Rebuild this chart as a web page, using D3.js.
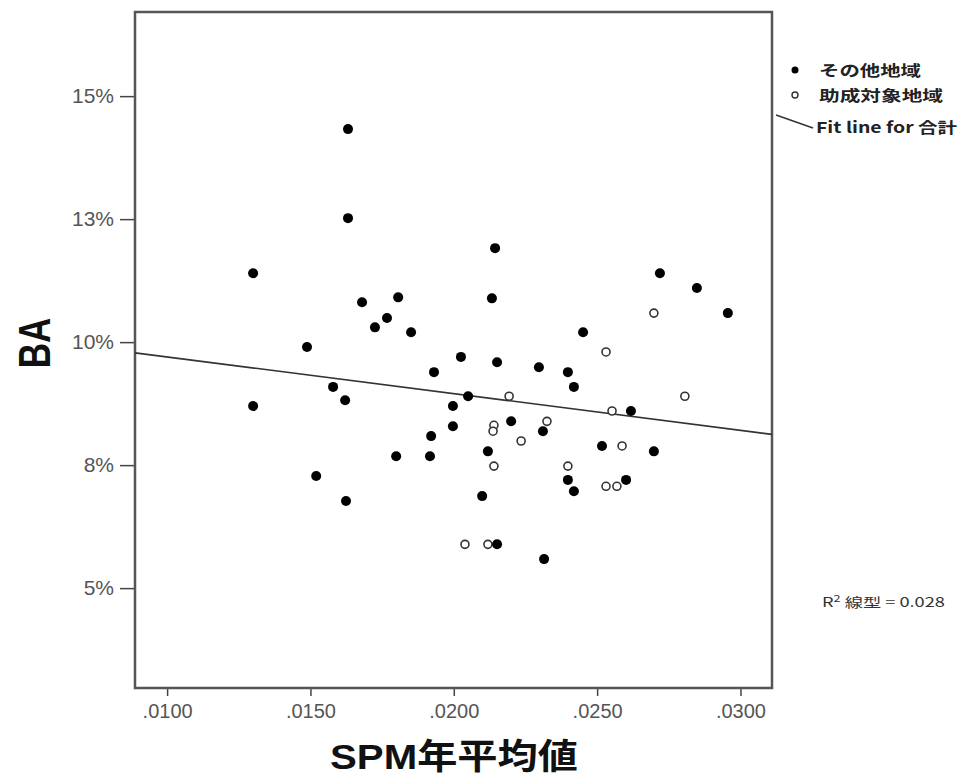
<!DOCTYPE html>
<html>
<head>
<meta charset="utf-8">
<script src="https://cdn.jsdelivr.net/npm/d3@7"></script>
<style>
  body { margin: 0; background: #fff; }
  svg { display: block; }
</style>
</head>
<body>
<div id="chart"></div>
<script>
// SPM yearly mean vs BA, two groups + overall fit line

// その他地域 (filled)
var otherSPM = [0.0130, 0.0130, 0.01488, 0.01520, 0.01579, 0.01621, 0.01624, 0.01631, 0.01631, 0.01680,
                0.01725, 0.01767, 0.01806, 0.01851, 0.01799, 0.01917, 0.01921, 0.01931, 0.01997, 0.01997,
                0.02025, 0.02050, 0.02099, 0.02119, 0.02133, 0.02144, 0.02151, 0.02151, 0.02200, 0.02297,
                0.02311, 0.02315, 0.02398, 0.02398, 0.02419, 0.02419, 0.02451, 0.02517, 0.02601, 0.02618,
                0.02698, 0.02719, 0.02848, 0.02956];
var otherBA  = [0.1140, 0.0870, 0.0990, 0.0728, 0.0909, 0.0882, 0.0677, 0.1433, 0.1252, 0.1081,
                0.1030, 0.1049, 0.1091, 0.1020, 0.0768, 0.0768, 0.0809, 0.0939, 0.0870, 0.0829,
                0.0970, 0.0890, 0.0687, 0.0778, 0.1089, 0.1191, 0.0959, 0.0589, 0.0839, 0.0949,
                0.0819, 0.0559, 0.0939, 0.0720, 0.0909, 0.0697, 0.1020, 0.0789, 0.0720, 0.0860,
                0.0778, 0.1140, 0.1110, 0.1059];

// 助成対象地域 (open)
var targetSPM = [0.02140, 0.02137, 0.02140, 0.02193, 0.02235, 0.02325, 0.02398, 0.02531, 0.02531, 0.02552,
                 0.02569, 0.02587, 0.02698, 0.02806, 0.02039, 0.02119];
var targetBA  = [0.0831, 0.0819, 0.0748, 0.0890, 0.0799, 0.0839, 0.0748, 0.0980, 0.0707, 0.0860,
                 0.0707, 0.0789, 0.1059, 0.0890, 0.0589, 0.0589];

var xTickValues = [0.010, 0.015, 0.020, 0.025, 0.030];
var xTickLabels = [".0100", ".0150", ".0200", ".0250", ".0300"];
var yTickValues = [0.05, 0.075, 0.10, 0.125, 0.15];
var yTickLabels = ["5%", "8%", "10%", "13%", "15%"];

var legendLabels = ["その他地域", "助成対象地域", "Fit line for 合計"];
var r2Label = "0.028";

// canvas
var svg = d3.select("#chart").append("svg")
    .attr("width", 962)
    .attr("height", 778);

svg.append("rect").attr("width", 962).attr("height", 778).attr("fill", "#fff");

var plot = {left: 135, right: 772, top: 12, bottom: 688};

var x = d3.scaleLinear()
    .domain([0.00888, 0.0311])
    .range([plot.left, plot.right]);
var y = d3.scaleLinear()
    .domain([0.0297, 0.1671])
    .range([plot.bottom, plot.top]);

// axes
var xAxis = svg.append("g")
    .attr("class", "axis axis--x")
    .attr("transform", "translate(0," + plot.bottom + ")")
    .call(d3.axisBottom(x)
        .tickValues(xTickValues)
        .tickSize(8)
        .tickPadding(4)
        .tickFormat(function(d, i) { return xTickLabels[i]; }));

var yAxis = svg.append("g")
    .attr("class", "axis axis--y")
    .attr("transform", "translate(" + plot.left + ",0)")
    .call(d3.axisLeft(y)
        .tickValues(yTickValues)
        .tickSize(15)
        .tickPadding(6)
        .tickFormat(function(d, i) { return yTickLabels[i]; }));

svg.selectAll(".axis .domain").remove();
svg.selectAll(".axis line").attr("stroke", "#444").attr("stroke-width", 1.5);
svg.selectAll(".axis text")
    .attr("fill", "#555")
    .style("font", "20px 'Liberation Sans', Arial, sans-serif");
yAxis.selectAll("text").style("font-size", "21px");
xAxis.selectAll("text").attr("dy", "0.9em");

// frame
svg.append("rect")
    .attr("x", plot.left)
    .attr("y", plot.top)
    .attr("width", plot.right - plot.left)
    .attr("height", plot.bottom - plot.top)
    .attr("fill", "none")
    .attr("stroke", "#555")
    .attr("stroke-width", 2.5);

// axis titles
svg.append("text")
    .attr("transform", "translate(50,343) rotate(-90) scale(1,1.25)")
    .attr("text-anchor", "middle")
    .attr("fill", "#111")
    .style("font", "bold 35px 'Liberation Sans', Arial, sans-serif")
    .text("BA");

svg.append("text")
    .attr("x", 330)
    .attr("y", 769)
    .attr("textLength", 248)
    .attr("lengthAdjust", "spacingAndGlyphs")
    .attr("fill", "#111")
    .style("font", "bold 35px 'Liberation Sans', 'Noto Sans CJK JP', sans-serif")
    .text("SPM年平均値");

// fit line, least squares over all points
var allX = otherSPM.concat(targetSPM),
    allY = otherBA.concat(targetBA);
var mx = d3.mean(allX), my = d3.mean(allY);
var sxy = d3.sum(allX, function(d, i) { return (d - mx) * (allY[i] - my); }),
    sxx = d3.sum(allX, function(d) { return (d - mx) * (d - mx); });
var slope = sxy / sxx, intercept = my - slope * mx;

var fitLine = d3.line()
    .x(function(d) { return x(d); })
    .y(function(d) { return y(intercept + slope * d); });

svg.append("path")
    .attr("d", fitLine(x.domain()))
    .attr("fill", "none")
    .attr("stroke", "#333")
    .attr("stroke-width", 1.6);

// points
var other = otherSPM.map(function(d, i) { return {spm: d, ba: otherBA[i]}; });
var target = targetSPM.map(function(d, i) { return {spm: d, ba: targetBA[i]}; });

svg.append("g").selectAll("circle")
    .data(target)
  .enter().append("circle")
    .attr("cx", function(d) { return x(d.spm); })
    .attr("cy", function(d) { return y(d.ba); })
    .attr("r", 4)
    .attr("fill", "#fff")
    .attr("stroke", "#333")
    .attr("stroke-width", 1.6);

svg.append("g").selectAll("circle")
    .data(other)
  .enter().append("circle")
    .attr("cx", function(d) { return x(d.spm); })
    .attr("cy", function(d) { return y(d.ba); })
    .attr("r", 5)
    .attr("fill", "#000");

// legend
var legend = svg.append("g").attr("class", "legend");
var lgFont = "bold 15px 'Noto Sans CJK JP', 'Liberation Sans', sans-serif";
var lgWidths = [102, 124, 141];

legend.append("circle").attr("cx", 795).attr("cy", 70).attr("r", 3.5).attr("fill", "#000");
legend.append("circle").attr("cx", 795).attr("cy", 95).attr("r", 3).attr("fill", "#fff")
    .attr("stroke", "#333").attr("stroke-width", 1.4);
legend.append("line").attr("x1", 776).attr("y1", 115).attr("x2", 813).attr("y2", 128)
    .attr("stroke", "#333").attr("stroke-width", 1.4);

legend.selectAll("text")
    .data(legendLabels)
  .enter().append("text")
    .attr("x", function(d, i) { return i < 2 ? 819 : 816; })
    .attr("y", function(d, i) { return [76, 101, 133][i]; })
    .attr("textLength", function(d, i) { return lgWidths[i]; })
    .attr("lengthAdjust", "spacingAndGlyphs")
    .attr("fill", "#222")
    .style("font", lgFont)
    .text(function(d) { return d; });

// R squared
var r2 = svg.append("text")
    .attr("x", 822)
    .attr("y", 607)
    .attr("textLength", 123)
    .attr("lengthAdjust", "spacingAndGlyphs")
    .attr("fill", "#333")
    .style("font", "13px 'Noto Sans CJK JP', 'Liberation Sans', sans-serif");
r2.append("tspan").text("R");
r2.append("tspan").attr("dy", -5).style("font-size", "9px").text("2");
r2.append("tspan").attr("dy", 5).text(" 線型 = " + r2Label);
</script>
</body>
</html>
